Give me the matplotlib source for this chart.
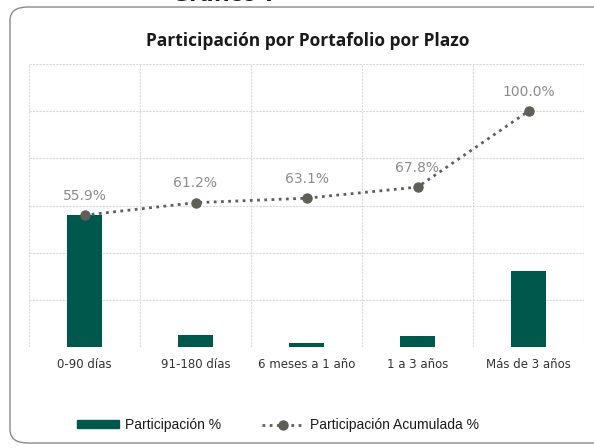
import matplotlib.pyplot as plt
import numpy as np
from matplotlib.patches import FancyBboxPatch
from matplotlib.lines import Line2D
from matplotlib.patches import Patch

# datos del grafico
plazos = ['0-90 días', '91-180 días', '6 meses a 1 año', '1 a 3 años', 'Más de 3 años']
participacion = [55.9, 5.3, 1.9, 4.7, 32.2]
acumulada = [55.9, 61.2, 63.1, 67.8, 100.0]
etiquetas = ['55.9%', '61.2%', '63.1%', '67.8%', '100.0%']

verde = '#00574B'
gris = '#5f5f5a'

fig = plt.figure(figsize=(5.94, 4.48), dpi=100)

# marco redondeado
marco = FancyBboxPatch((10 / 594, 5 / 448), 660 / 594, 436 / 448,
                       boxstyle='round,pad=0,rounding_size=0.03',
                       transform=fig.transFigure, facecolor='none',
                       edgecolor='#8a8a8a', linewidth=1.0, clip_on=False, zorder=-1)
fig.patches.append(marco)

fig.text(225 / 594, 1 - 5 / 448, 'Gráfico 7', ha='center', va='bottom',
         fontsize=15, fontweight='bold', color='#1a1a1a')
fig.text(308 / 594, 1 - 41 / 448, 'Participación por Portafolio por Plazo',
         ha='center', va='center', fontsize=12.5, fontweight='bold',
         family='Open Sans', color='#1a1a1a')

ax = fig.add_axes([29 / 594, 1 - 347 / 448, 555 / 594, 283 / 448])
ax.patch.set_alpha(0)
x = np.arange(len(plazos))

ax.bar(x, participacion, width=0.31, color=verde, zorder=2)
ax.plot(x, acumulada, linestyle=(0, (1, 1.6)), linewidth=2.0, color=gris,
        marker='o', markersize=6.5, zorder=3)

for xi, yi, t in zip(x, acumulada, etiquetas):
    ax.annotate(t, (xi, yi), xytext=(0, 9), textcoords='offset points',
                ha='center', va='bottom', fontsize=10, color='#8c8c8c')

ax.set_xlim(-0.5, len(plazos) - 0.5)
ax.set_ylim(0, 120)
ax.set_yticks(np.arange(0, 121, 20))
ax.set_xticks(np.arange(-0.5, len(plazos), 1), minor=False)
ax.set_xticklabels([])
ax.set_xticks(x, minor=True)
ax.set_xticklabels(plazos, minor=True, fontsize=8.5, color='#333333')
ax.tick_params(which='both', length=0, pad=8)
ax.set_yticklabels([])
ax.grid(True, which='major', color='#d9d9d9', linestyle=(0, (2, 1)), linewidth=0.8, zorder=0)
for s in ax.spines.values():
    s.set_visible(False)

handles = [Patch(facecolor=verde, edgecolor=verde),
           Line2D([0], [0], linestyle=(0, (1, 1.6)), linewidth=2.0, color=gris,
                  marker='o', markersize=6.5)]
leg = fig.legend(handles, ['Participación %', 'Participación Acumulada %'],
                 loc='center', bbox_to_anchor=(278 / 594, 1 - 425 / 448), ncol=2,
                 frameon=False, handlelength=3.0, handleheight=0.5,
                 handletextpad=0.4, columnspacing=3.0,
                 prop={'family': 'Liberation Sans', 'size': 10})
for t in leg.get_texts():
    t.set_color('#1a1a1a')

fig.savefig('out.png', dpi=100)
